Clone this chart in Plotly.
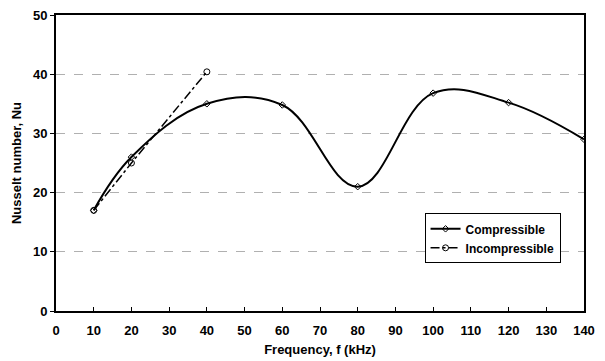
import plotly.graph_objects as go

freq_comp = [10, 20, 40, 60, 80, 100, 120, 140]
nu_comp = [17, 26, 35, 34.8, 21, 36.8, 35.2, 29]
freq_incomp = [10, 20, 40]
nu_incomp = [17, 25, 40.4]

x_ticks = list(range(0, 141, 10))
y_ticks = list(range(0, 51, 10))

font_family = "Liberation Sans, Arial, sans-serif"

fig = go.Figure()
fig.add_trace(go.Scatter(
    x=freq_comp, y=nu_comp, name="<b>Compressible</b>",
    mode="lines+markers",
    line=dict(color="black", width=2, shape="spline", smoothing=1.1),
    marker=dict(symbol="diamond-open", size=5, color="black", line=dict(width=1)),
))
fig.add_trace(go.Scatter(
    x=freq_incomp, y=nu_incomp, name="<b>Incompressible</b>",
    mode="lines+markers",
    line=dict(color="black", width=1.5, dash="dashdot"),
    marker=dict(symbol="circle-open", size=6, color="black", line=dict(width=1)),
))

fig.update_layout(
    width=605, height=361,
    margin=dict(l=56, r=21, t=15, b=50),
    paper_bgcolor="white", plot_bgcolor="white",
    font=dict(family=font_family, size=13, color="black"),
    legend=dict(x=0.698, y=0.33, xanchor="left", yanchor="top",
                bordercolor="black", borderwidth=1, bgcolor="white",
                font=dict(size=12), tracegroupgap=0, itemwidth=30),
    showlegend=True,
)
fig.update_xaxes(
    automargin=False,
    range=[0, 140], tickvals=x_ticks, ticktext=[f"<b>{v}</b>" for v in x_ticks],
    showgrid=False, zeroline=False,
    showline=True, linecolor="black", linewidth=2, mirror=True,
    ticks="inside", ticklen=4, tickcolor="black", ticklabelstandoff=6,
    title=dict(text="<b>Frequency, f (kHz)</b>", font=dict(size=13), standoff=8),
)
fig.update_yaxes(
    automargin=False,
    range=[0, 50], tickvals=y_ticks, ticktext=[f"<b>{v}</b>" for v in y_ticks],
    showgrid=True, gridcolor="#b0b0b0", griddash="dash", gridwidth=1,
    zeroline=False,
    showline=True, linecolor="black", linewidth=2, mirror=True,
    ticks="outside", ticklen=4, tickcolor="black",
    title=dict(text="<b>Nusselt number, Nu</b>", font=dict(size=13), standoff=8),
)

fig.write_html("out.html")
